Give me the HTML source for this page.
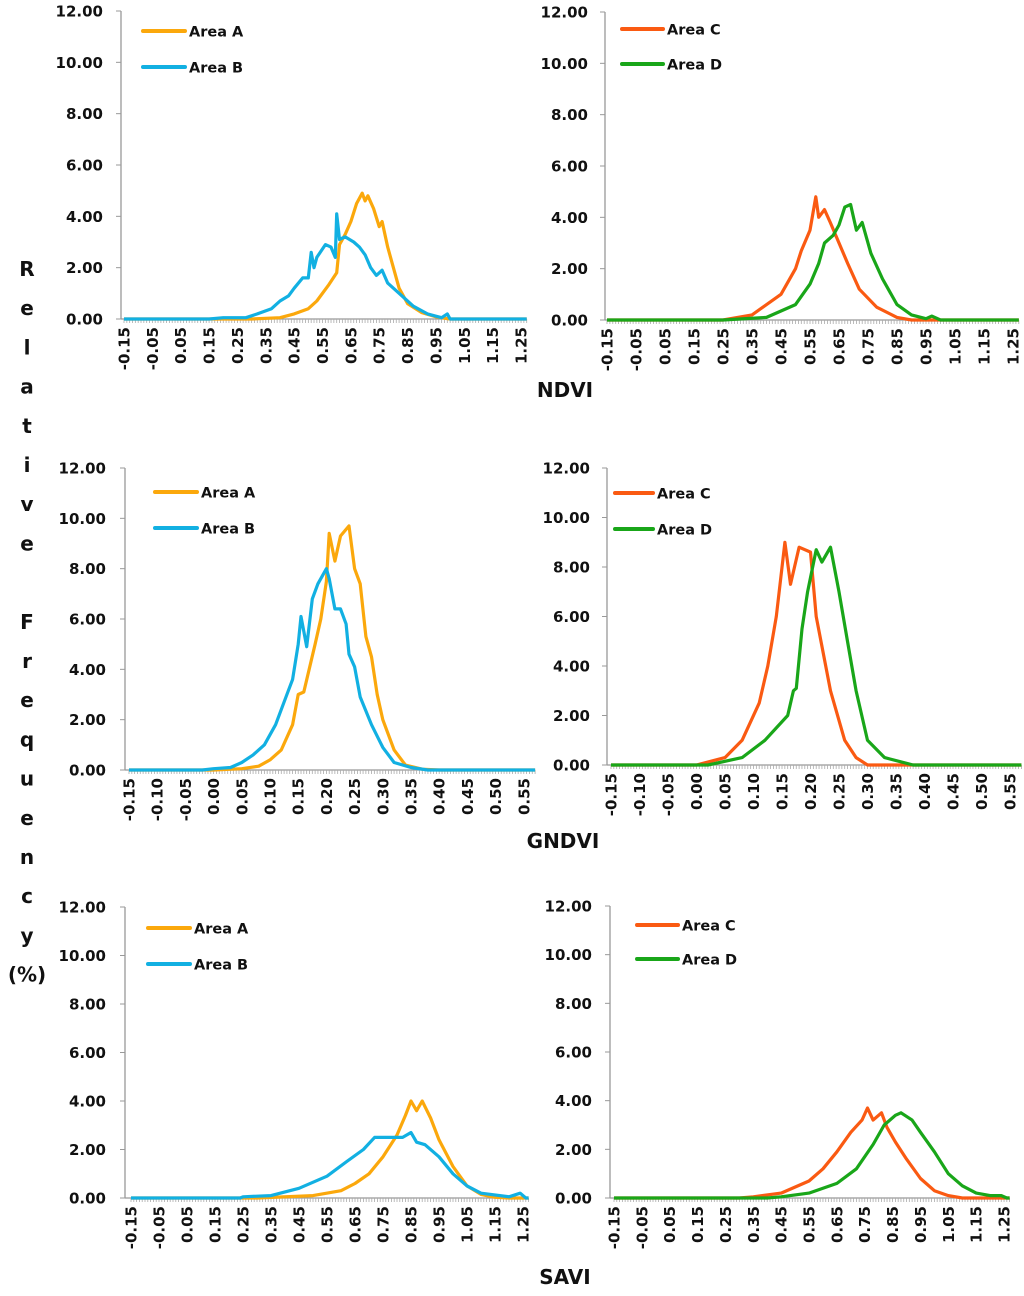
<!DOCTYPE html>
<html><head><meta charset="utf-8"><style>
html,body{margin:0;padding:0;background:#fff;}
svg text{font-family:"DejaVu Sans","Liberation Sans",sans-serif;font-weight:bold;fill:#111;}
</style></head><body>
<svg id="fig" width="1024" height="1291" xmlns="http://www.w3.org/2000/svg">
<g id="ylab"></g>
<text x="565" y="397" font-size="20" text-anchor="middle">NDVI</text>
<text x="563" y="848" font-size="20" text-anchor="middle">GNDVI</text>
<text x="565" y="1284" font-size="20" text-anchor="middle">SAVI</text>
</svg>
<script>
const NS='http://www.w3.org/2000/svg';
const svg=document.getElementById('fig');
function mk(tag,at,parent){const e=document.createElementNS(NS,tag);for(const k in at)e.setAttribute(k,at[k]);(parent||svg).appendChild(e);return e;}

const yTitle=['R','e','l','a','t','i','v','e','','F','r','e','q','u','e','n','c','y','(%)'];
const yl=document.getElementById('ylab');
yTitle.forEach((c,i)=>{if(!c)return;const t=mk('text',{x:27,y:276+i*39.2,'font-size':20,'text-anchor':'middle'},yl);t.textContent=c;});

const yTicks=[0,2,4,6,8,10,12];
const ndviAx=[-0.15,0.3,0.4,0.45,0.5,0.53,0.57,0.6,0.61,0.63,0.65,0.67,0.69,0.7,0.71,0.73,0.75,0.76,0.78,0.8,0.82,0.85,0.9,0.95,1.0,1.27];
const ndviAy=[0,0,0.05,0.2,0.4,0.7,1.3,1.8,2.9,3.3,3.8,4.5,4.9,4.6,4.8,4.3,3.6,3.8,2.8,2.0,1.2,0.6,0.25,0.08,0,0];
const ndviBx=[-0.15,0.15,0.2,0.28,0.32,0.37,0.4,0.43,0.45,0.48,0.5,0.51,0.52,0.53,0.56,0.58,0.595,0.6,0.61,0.63,0.66,0.68,0.7,0.72,0.74,0.76,0.78,0.82,0.87,0.92,0.97,0.99,1.0,1.27];
const ndviBy=[0,0,0.05,0.05,0.2,0.4,0.7,0.9,1.2,1.6,1.6,2.6,2.0,2.4,2.9,2.8,2.4,4.1,3.1,3.2,3.0,2.8,2.5,2.0,1.7,1.9,1.4,1.0,0.5,0.2,0.05,0.2,0,0];
const ndviCx=[-0.15,0.25,0.35,0.45,0.5,0.52,0.55,0.57,0.58,0.6,0.62,0.65,0.68,0.72,0.78,0.85,0.9,1.27];
const ndviCy=[0,0,0.2,1.0,2.0,2.7,3.5,4.8,4.0,4.3,3.8,3.0,2.2,1.2,0.5,0.1,0,0];
const ndviDx=[-0.15,0.25,0.4,0.5,0.55,0.58,0.6,0.63,0.65,0.67,0.69,0.71,0.73,0.76,0.8,0.85,0.9,0.95,0.97,1.0,1.27];
const ndviDy=[0,0,0.1,0.6,1.4,2.2,3.0,3.3,3.7,4.4,4.5,3.5,3.8,2.6,1.6,0.6,0.2,0.05,0.15,0,0];
const gA_x=[-0.15,0,0.05,0.08,0.1,0.12,0.14,0.15,0.16,0.18,0.19,0.2,0.205,0.215,0.225,0.24,0.25,0.26,0.27,0.28,0.29,0.3,0.32,0.34,0.37,0.4,0.57];
const gA_y=[0,0,0.05,0.15,0.4,0.8,1.8,3.0,3.1,5.0,6.0,7.5,9.4,8.3,9.3,9.7,8.0,7.4,5.3,4.5,3.0,2.0,0.8,0.2,0.03,0,0];
const gB_x=[-0.15,-0.02,0,0.03,0.05,0.07,0.09,0.11,0.13,0.14,0.15,0.155,0.165,0.175,0.185,0.2,0.205,0.215,0.225,0.235,0.24,0.25,0.26,0.28,0.3,0.32,0.35,0.38,0.57];
const gB_y=[0,0,0.05,0.1,0.3,0.6,1.0,1.8,3.0,3.6,5.0,6.1,4.9,6.8,7.4,8.0,7.6,6.4,6.4,5.8,4.6,4.1,2.9,1.8,0.9,0.3,0.1,0,0];
const gC_x=[-0.15,0,0.05,0.08,0.11,0.125,0.14,0.155,0.165,0.18,0.2,0.21,0.235,0.26,0.28,0.3,0.57];
const gC_y=[0,0,0.3,1.0,2.5,4.0,6.0,9.0,7.3,8.8,8.6,6.0,3.0,1.0,0.3,0,0];
const gD_x=[-0.15,0.02,0.08,0.12,0.16,0.17,0.175,0.185,0.195,0.21,0.22,0.235,0.25,0.265,0.28,0.3,0.33,0.38,0.57];
const gD_y=[0,0,0.3,1.0,2.0,3.0,3.1,5.5,7.0,8.7,8.2,8.8,7.0,5.0,3.0,1.0,0.3,0,0];
const sA_x=[-0.15,0.3,0.5,0.6,0.65,0.7,0.75,0.8,0.83,0.85,0.87,0.89,0.92,0.95,1.0,1.05,1.1,1.15,1.2,1.27];
const sA_y=[0,0,0.1,0.3,0.6,1.0,1.7,2.6,3.4,4.0,3.6,4.0,3.3,2.4,1.3,0.5,0.15,0.03,0,0];
const sB_x=[-0.15,0.24,0.25,0.35,0.45,0.55,0.62,0.68,0.72,0.78,0.82,0.85,0.87,0.9,0.95,1.0,1.05,1.1,1.2,1.24,1.26,1.27];
const sB_y=[0,0,0.05,0.1,0.4,0.9,1.5,2.0,2.5,2.5,2.5,2.7,2.3,2.2,1.7,1.0,0.5,0.2,0.05,0.2,0,0];
const sC_x=[-0.15,0.3,0.35,0.45,0.55,0.6,0.65,0.7,0.74,0.76,0.78,0.81,0.83,0.86,0.9,0.95,1.0,1.05,1.1,1.27];
const sC_y=[0,0,0.05,0.2,0.7,1.2,1.9,2.7,3.2,3.7,3.2,3.5,2.9,2.3,1.6,0.8,0.3,0.1,0,0];
const sD_x=[-0.15,0.4,0.45,0.55,0.65,0.72,0.78,0.82,0.86,0.88,0.92,0.95,1.0,1.05,1.1,1.15,1.2,1.24,1.26,1.27];
const sD_y=[0,0,0.05,0.2,0.6,1.2,2.2,3.0,3.4,3.5,3.2,2.7,1.9,1.0,0.5,0.2,0.1,0.1,0,0];

const ORANGE='#FBA80C',BLUE='#12B0E2',RED='#FA5A12',GREEN='#19A619';
const panels=[
 {n:'ndvi-left',ax:121,y0:319,y12:11,x0:124,per:283.6,xmin:-0.15,xmax:1.27,step:0.01,lab:0.1,labx:103,
  s:[['area-a',ndviAx,ndviAy,ORANGE],['area-b',ndviBx,ndviBy,BLUE]],leg:[143,185,31,67]},
 {n:'ndvi-right',ax:605,y0:320,y12:12,x0:607,per:290,xmin:-0.15,xmax:1.27,step:0.01,lab:0.1,labx:588,
  s:[['area-c',ndviCx,ndviCy,RED],['area-d',ndviDx,ndviDy,GREEN]],leg:[622,663,29,64]},
 {n:'gndvi-left',ax:125,y0:770,y12:468,x0:129,per:564,xmin:-0.15,xmax:0.57,step:0.005,lab:0.05,labx:106,
  s:[['area-a',gA_x,gA_y,ORANGE],['area-b',gB_x,gB_y,BLUE]],leg:[155,197,492,528]},
 {n:'gndvi-right',ax:607,y0:765,y12:468,x0:611,per:570,xmin:-0.15,xmax:0.57,step:0.005,lab:0.05,labx:590,
  s:[['area-c',gC_x,gC_y,RED],['area-d',gD_x,gD_y,GREEN]],leg:[615,653,493,529]},
 {n:'savi-left',ax:125,y0:1198,y12:907,x0:131,per:280,xmin:-0.15,xmax:1.27,step:0.01,lab:0.1,labx:106,
  s:[['area-a',sA_x,sA_y,ORANGE],['area-b',sB_x,sB_y,BLUE]],leg:[148,190,928,964]},
 {n:'savi-right',ax:610,y0:1198,y12:906,x0:614,per:278.6,xmin:-0.15,xmax:1.27,step:0.01,lab:0.1,labx:592,
  s:[['area-c',sC_x,sC_y,RED],['area-d',sD_x,sD_y,GREEN]],leg:[637,678,925,959]}
];
panels.forEach(p=>{
  const g=mk('g',{});
  
  
  const X=v=>p.x0+(v-p.xmin)*p.per;
  const Y=v=>p.y0-(v/12)*(p.y0-p.y12);
  const xr=X(p.xmax);
  mk('line',{x1:p.ax,y1:p.y12,x2:p.ax,y2:p.y0,stroke:'#999','stroke-width':1.3},g);
  yTicks.forEach(t=>{
    mk('line',{x1:p.ax-5,y1:Y(t),x2:p.ax,y2:Y(t),stroke:'#999','stroke-width':1},g);
    const tx=mk('text',{x:p.labx,y:Y(t)+5.5,'font-size':15,'text-anchor':'end'},g);
    tx.textContent=t.toFixed(2);
  });
  mk('line',{x1:p.ax,y1:p.y0,x2:xr,y2:p.y0,stroke:'#999','stroke-width':1.3},g);
  const nT=Math.round((p.xmax-p.xmin)/p.step);
  for(let i=0;i<=nT;i++){const v=p.xmin+i*p.step;mk('line',{x1:X(v),y1:p.y0,x2:X(v),y2:p.y0+4,stroke:'#aaa','stroke-width':0.8},g);}
  const nL=Math.round((p.xmax-p.xmin)/p.lab);
  for(let i=0;i<=nL;i++){const v=p.xmin+i*p.lab;if(v>p.xmax+1e-9)break;
    const x=X(v)+5.5,y=p.y0+8;
    const t=mk('text',{x:x,y:y,'font-size':15,'text-anchor':'end',transform:`rotate(-90 ${x} ${y})`},g);
    
    
    t.textContent=(Math.abs(v)<1e-9?0:v).toFixed(2);}
  p.s.forEach((s,k)=>{
    const pts=s[1].map((v,i)=>X(v).toFixed(1)+','+Y(s[2][i]).toFixed(1)).join(' ');
    const pl=mk('polyline',{points:pts,fill:'none',stroke:s[3],'stroke-width':3.2,'stroke-linejoin':'round'},g);
    
    
    const ly=p.leg[2+k];
    const lg=mk('g',{},g);
    
    
    mk('line',{x1:p.leg[0],y1:ly,x2:p.leg[1],y2:ly,stroke:s[3],'stroke-width':4,'stroke-linecap':'round'},lg);
    const lt=mk('text',{x:p.leg[1]+4,y:ly+5.5,'font-size':14.5},lg);
    lt.textContent=s[0]==='area-a'?'Area A':s[0]==='area-b'?'Area B':s[0]==='area-c'?'Area C':'Area D';
  });
});
</script>
</body></html>
